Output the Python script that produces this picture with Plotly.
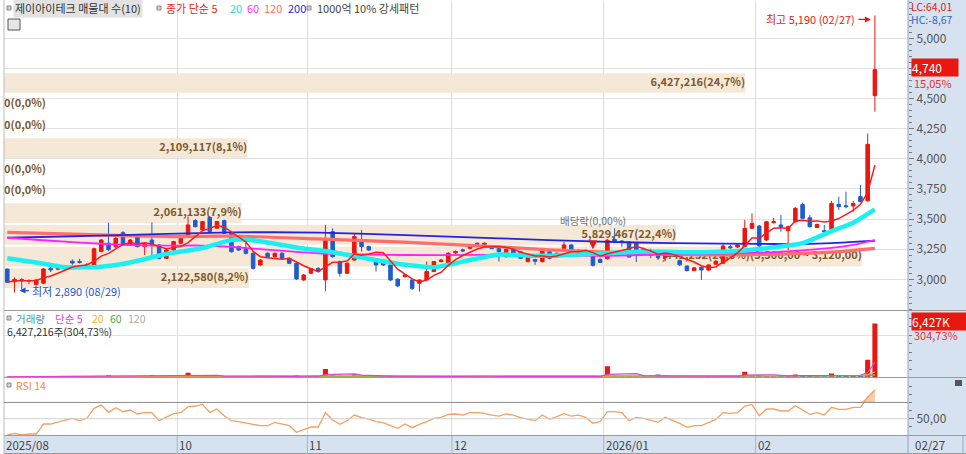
import numpy as np
import pandas as pd
import plotly.graph_objects as go

# ---------------- data (daily, 2025/08/28 .. 2026/02/27) ----------------
open_ = [3085, 2980, 2998, 2985, 2955, 2968, 3090, 3084, 3085, 3150,
         3148, 3120, 3100, 3230, 3300, 3270, 3387, 3285, 3368, 3271,
         3326, 3285, 3174, 3243, 3299, 3368, 3487, 3410, 3514, 3424,
         3487, 3382, 3271, 3257, 3216, 3119, 3216, 3188, 3216, 3174,
         3133, 2995, 3050, 3091, 2995, 3395, 3147, 3050, 3160, 3326,
         3271, 3147, 3160, 3119, 3000, 3022, 2994, 2967, 2994, 3064,
         3147, 3133, 3220, 3245, 3257, 3299, 3290, 3270, 3257, 3188,
         3257, 3229, 3147, 3165, 3147, 3229, 3188, 3257, 3285, 3220,
         3225, 3212, 3165, 3171, 3330, 3318, 3309, 3300, 3250, 3240,
         3200, 3180, 3220, 3155, 3110, 3072, 3100, 3077, 3125, 3133,
         3270, 3268, 3271, 3423, 3442, 3326, 3470, 3451, 3403, 3478,
         3620, 3511, 3430, 3403, 3415, 3622, 3610, 3609, 3686, 3652,
         4524]
high = [3090, 3015, 3010, 3000, 3000, 3095, 3110, 3105, 3115, 3165,
        3170, 3135, 3262, 3335, 3470, 3350, 3400, 3335, 3375, 3305,
        3473, 3290, 3250, 3320, 3350, 3520, 3500, 3485, 3525, 3485,
        3495, 3390, 3280, 3320, 3225, 3165, 3222, 3222, 3225, 3180,
        3140, 3045, 3095, 3100, 3450, 3423, 3155, 3140, 3382, 3410,
        3280, 3155, 3170, 3125, 3010, 3045, 3000, 3000, 3147, 3150,
        3170, 3225, 3240, 3255, 3290, 3305, 3305, 3275, 3262, 3255,
        3262, 3235, 3185, 3170, 3250, 3235, 3222, 3310, 3290, 3250,
        3245, 3225, 3175, 3335, 3423, 3325, 3315, 3305, 3262, 3255,
        3245, 3240, 3230, 3165, 3115, 3100, 3108, 3125, 3160, 3290,
        3285, 3290, 3492, 3547, 3450, 3485, 3510, 3534, 3445, 3600,
        3636, 3534, 3462, 3450, 3650, 3686, 3727, 3650, 3783, 4210,
        5190]
low = [2970, 2890, 2915, 2960, 2950, 2960, 3060, 3075, 3080, 3120,
       3130, 3090, 3090, 3225, 3235, 3260, 3275, 3280, 3265, 3200,
       3200, 3165, 3170, 3238, 3295, 3360, 3430, 3405, 3390, 3420,
       3375, 3222, 3235, 3205, 3080, 3110, 3180, 3180, 3168, 3125,
       2995, 2985, 3045, 3055, 2900, 3180, 3022, 3045, 3155, 3230,
       3235, 3064, 3110, 2985, 2935, 3015, 2911, 2897, 2990, 3060,
       3140, 3130, 3210, 3225, 3250, 3280, 3285, 3250, 3147, 3180,
       3210, 3170, 3140, 3120, 3140, 3165, 3180, 3250, 3225, 3215,
       3215, 3105, 3135, 3165, 3300, 3270, 3180, 3143, 3225, 3175,
       3160, 3150, 3190, 3110, 3065, 3068, 2994, 3070, 3120, 3128,
       3250, 3260, 3265, 3418, 3270, 3320, 3465, 3395, 3243, 3470,
       3500, 3430, 3425, 3368, 3410, 3575, 3590, 3561, 3640, 3645,
       4390]
close = [2975, 3000, 2988, 2990, 2995, 3086, 3078, 3100, 3111, 3135,
         3140, 3110, 3253, 3326, 3245, 3340, 3285, 3326, 3271, 3299,
         3285, 3174, 3243, 3313, 3340, 3451, 3437, 3479, 3396, 3479,
         3382, 3229, 3243, 3216, 3091, 3160, 3188, 3216, 3174, 3133,
         3003, 3036, 3090, 3064, 3326, 3188, 3050, 3133, 3354, 3271,
         3243, 3119, 3119, 2994, 2945, 3036, 2925, 2994, 3064, 3147,
         3160, 3216, 3230, 3235, 3285, 3290, 3299, 3255, 3230, 3250,
         3216, 3174, 3180, 3150, 3243, 3174, 3216, 3285, 3229, 3240,
         3238, 3116, 3140, 3324, 3310, 3308, 3185, 3245, 3235, 3200,
         3180, 3230, 3200, 3120, 3072, 3095, 3077, 3119, 3150, 3277,
         3262, 3285, 3423, 3464, 3277, 3478, 3478, 3437, 3437, 3589,
         3506, 3437, 3455, 3395, 3630, 3603, 3603, 3630, 3644, 4120,
         4740]
volume = [90000, 160000, 110000, 70000, 80000, 120000, 70000, 60000, 70000, 90000,
          80000, 70000, 160000, 150000, 280000, 140000, 130000, 100000, 120000, 110000,
          300000, 150000, 120000, 130000, 140000, 560000, 210000, 150000, 180000, 130000,
          120000, 160000, 100000, 100000, 140000, 100000, 90000, 100000, 110000, 110000,
          300000, 130000, 120000, 100000, 1000000, 380000, 200000, 150000, 400000, 230000,
          150000, 130000, 110000, 180000, 160000, 100000, 140000, 120000, 170000, 150000,
          100000, 130000, 90000, 80000, 100000, 90000, 80000, 90000, 110000, 120000,
          100000, 110000, 90000, 100000, 130000, 110000, 90000, 120000, 100000, 90000,
          80000, 200000, 120000, 1350000, 300000, 250000, 220000, 200000, 140000, 130000,
          350000, 160000, 120000, 150000, 140000, 110000, 130000, 150000, 130000, 250000,
          150000, 180000, 680000, 300000, 260000, 220000, 160000, 170000, 200000, 350000,
          230000, 180000, 150000, 140000, 480000, 230000, 200000, 180000, 260000, 2109117,
          6427216]
rsi14 = [30.0, 32.0, 30.0, 31.2, 31.2, 43.5, 43.5, 46.3, 48.4, 50.5,
         47.6, 50.5, 62.8, 66.8, 57.8, 63.5, 58.6, 60.7, 55.8, 57.4,
         57.4, 47.6, 51.7, 56.2, 57.4, 64.8, 65.6, 67.6, 57.8, 61.9,
         53.7, 47.6, 46.3, 45.1, 43.1, 41.4, 41.4, 45.5, 43.5, 41.4,
         33.3, 36.1, 39.8, 39.8, 57.4, 48.4, 43.1, 47.6, 54.5, 51.3,
         49.6, 46.3, 45.1, 41.4, 38.2, 43.5, 39.0, 43.1, 46.3, 50.5,
         51.7, 55.4, 55.8, 54.5, 57.4, 57.6, 56.6, 54.5, 53.3, 55.8,
         54.5, 51.3, 49.2, 47.6, 54.5, 49.2, 52.5, 56.2, 53.3, 54.5,
         51.7, 44.3, 46.3, 58.6, 58.6, 57.4, 47.6, 51.7, 50.5, 48.4,
         45.5, 51.7, 48.4, 44.3, 39.4, 41.4, 41.4, 45.5, 49.2, 57.4,
         56.6, 57.4, 65.6, 67.6, 53.7, 61.9, 61.9, 59.5, 59.5, 66.0,
         60.7, 55.4, 57.4, 54.5, 64.0, 61.5, 61.5, 64.0, 64.0, 76.5,
         85.3]

# longer price averages, read at selected candles (their history is off-screen)
ma20_idx = [0, 4, 8, 13, 17, 22, 27, 31, 34, 38, 41, 45, 50, 55, 59, 64, 68, 73, 77, 82, 88, 96, 101, 106, 110, 114, 117, 120]
ma20_val = [3175, 3140, 3100, 3105, 3140, 3210, 3260, 3325, 3325, 3285, 3255, 3225, 3170, 3120, 3100, 3160, 3205, 3195, 3200, 3215, 3230, 3225, 3235, 3265, 3300, 3400, 3470, 3580]
ma60_idx = [0, 6, 13, 20, 27, 31, 34, 43, 50, 60, 70, 82, 90, 100, 106, 110, 114, 117, 120]
ma60_val = [3345, 3320, 3295, 3280, 3280, 3270, 3255, 3216, 3205, 3200, 3205, 3195, 3205, 3215, 3225, 3240, 3260, 3285, 3325]
ma120_idx = [0, 13, 22, 31, 43, 54, 61, 68, 75, 82, 90, 96, 106, 110, 114, 117, 120]
ma120_val = [3390, 3368, 3355, 3358, 3335, 3310, 3290, 3270, 3245, 3228, 3210, 3202, 3207, 3215, 3225, 3240, 3257]
ma200_idx = [0, 13, 31, 43, 54, 68, 82, 92, 106, 110, 114, 117, 120]
ma200_val = [3345, 3362, 3390, 3388, 3368, 3340, 3312, 3300, 3293, 3293, 3300, 3310, 3320]

# volume profile (매물대 수 10), price bands top -> bottom
band_edges = [4740, 4560, 4380, 4200, 4020, 3840, 3660, 3480, 3300, 3120, 2940]
band_vol = [6427216, 0, 0, 2109117, 0, 0, 2061133, 5829467, 7441232, 2122580]

month_start = [24, 42, 62, 83, 104]
month_label = ['10', '11', '12', '2026/01', '02']
first_label = '2025/08'
last_date = '02/27'
low_date = '08/29'
div_idx = 81
div_text = '배당락(0,00%)'
price_ticks = [3000, 3250, 3500, 3750, 4000, 4250, 4500, 4750, 5000]

# ---------------- layout geometry / styles ----------------
W, H = 966, 454
ML, MR, MT, MB = 4, 58, 1, 19
PW, PH = W - ML - MR, H - MT - MB
FONT = 'Noto Sans CJK KR'
UP, DN = '#e8170f', '#1f5ccc'
GRID = '#e2e2e2'
PANEL = '#d7e2f0'
BAND_FILL = '#f6e8d6'
BAND_TXT = '#7b5a2e'
STEP_PX, FIRST_PX = 7.23, 7.3


def px(x):
    return (x - ML) / PW


def py(y):
    return (H - MB - y) / PH


n = len(close)
idx = list(range(n))
X0 = -(FIRST_PX - ML) / STEP_PX
X1 = X0 + PW / STEP_PX
grid_x = [m - 0.5 for m in month_start]

ma5 = pd.Series(close).rolling(5, min_periods=1).mean()
vol_s = pd.Series(volume)
vma = {w: vol_s.rolling(w, min_periods=1).mean() for w in (5, 20, 60, 120)}

fig = go.Figure()

# volume profile bands (base subplot, under the candles)
band_hi = np.array(band_edges[:-1], dtype=float)
band_lo = np.array(band_edges[1:], dtype=float)
band_mid = (band_hi + band_lo) / 2 - 21
band_h = (band_hi - band_lo) * 0.91
total = sum(band_vol)
top_band = int(np.argmax(band_vol))
band_txt, band_pos = [], []
for k, v in enumerate(band_vol):
    t = f'{v:,}({v / total * 100:.1f}%)'.replace('.', ',')
    if k == top_band:
        t += f'({band_hi[k]:,.2f} ~ {band_lo[k]:,.2f})'.replace('.', ',')
    band_txt.append(t)
    band_pos.append('middle left' if v > 0 else 'middle right')

fig.add_trace(go.Bar(x=band_vol, y=band_mid, width=band_h, orientation='h',
                     marker=dict(color=BAND_FILL, line=dict(width=0)),
                     xaxis='x', yaxis='y', hoverinfo='skip'))
fig.add_trace(go.Scatter(x=band_vol, y=band_mid, mode='text', text=band_txt,
                         textposition=band_pos,
                         textfont=dict(family=FONT, size=11, color=BAND_TXT, weight='bold'),
                         xaxis='x', yaxis='y', hoverinfo='skip'))

# moving averages of close
for xs, ys, col, w in [(ma120_idx, ma120_val, '#ff6d6d', 3.2),
                       (ma200_idx, ma200_val, '#2424e0', 1.8),
                       (ma60_idx, ma60_val, '#ff22ff', 1.8),
                       (ma20_idx, ma20_val, '#19f0f0', 4.5)]:
    fig.add_trace(go.Scatter(x=xs, y=ys, mode='lines',
                             line=dict(color=col, width=w, shape='spline', smoothing=0.6),
                             xaxis='x2', yaxis='y', hoverinfo='skip'))
fig.add_trace(go.Scatter(x=idx, y=ma5, mode='lines', line=dict(color='#ff1a1a', width=1.5),
                         xaxis='x2', yaxis='y', hoverinfo='skip'))

fig.add_trace(go.Candlestick(x=idx, open=open_, high=high, low=low, close=close,
                             increasing=dict(line=dict(color=UP, width=1), fillcolor=UP),
                             decreasing=dict(line=dict(color=DN, width=1), fillcolor=DN),
                             whiskerwidth=0, xaxis='x2', yaxis='y', hoverinfo='skip'))

# volume panel
vcol = [UP if c >= o else DN for o, c in zip(open_, close)]
fig.add_trace(go.Bar(x=idx, y=volume, width=0.7, marker=dict(color=vcol, line=dict(width=0)),
                     xaxis='x3', yaxis='y2', hoverinfo='skip'))
for w, col in [(120, '#a8a8a8'), (60, '#3cae5a'), (20, '#f2b233'), (5, '#e83fd0')]:
    fig.add_trace(go.Scatter(x=idx, y=vma[w], mode='lines', line=dict(color=col, width=1.2),
                             xaxis='x3', yaxis='y2', hoverinfo='skip'))

# RSI panel
rsi_arr = np.array(rsi14)
fig.add_trace(go.Scatter(x=idx, y=np.full(n, 70.0), mode='lines', line=dict(width=0),
                         xaxis='x4', yaxis='y3', hoverinfo='skip'))
fig.add_trace(go.Scatter(x=idx, y=np.maximum(rsi_arr, 70), mode='lines', line=dict(width=0),
                         fill='tonexty', fillcolor='rgba(246,160,100,0.55)',
                         xaxis='x4', yaxis='y3', hoverinfo='skip'))
fig.add_trace(go.Scatter(x=idx, y=rsi14, mode='lines', line=dict(color='#f5a060', width=1.3),
                         xaxis='x4', yaxis='y3', hoverinfo='skip'))

# ---------------- annotations ----------------
ann = []


def note(text, x, y, color='#333333', size=11, xref='paper', yref='paper', **kw):
    d = dict(text=text, x=x, y=y, xref=xref, yref=yref, showarrow=False, borderpad=0,
             xanchor='left', yanchor='middle', font=dict(family=FONT, size=size, color=color))
    d.update(kw)
    ann.append(d)


# top legend
note('제이아이테크 매물대 수(10)', px(13), py(8), color='#333333', bgcolor='#e2e2e2', borderpad=1)
for t, c, x in [('종가 단순 5', '#ee1c1c', 165), ('20', '#19dede', 229), ('60', '#ff30ff', 246),
                ('120', '#ff6d6d', 263), ('200', '#2a2ae0', 287)]:
    note(t, px(x), py(8), color=c)
note('1000억 10% 강세패턴', px(316), py(8), color='#444444')

# volume / rsi legends
for t, c, x in [('거래량', '#44a0a8', 15), ('단순 5', '#e83fd0', 54), ('20', '#f2b233', 91),
                ('60', '#3cae5a', 109), ('120', '#aaaaaa', 127)]:
    note(t, px(x), py(318), color=c, size=10.5)
last_v, prev_v = volume[-1], volume[-2]
note(f'{last_v:,}주({last_v / prev_v * 100:.2f}%)'.replace('.', ','), px(6), py(331.5),
     color='#333333', size=10.5)
note('RSI 14', px(15), py(385), color='#f08a3c', size=10.5)

# high / low markers
hi_i = int(np.argmax(high))
lo_i = int(np.argmin(low))
note(f'최고 {high[hi_i]:,} ({last_date})', hi_i, high[hi_i], color=UP, xref='x2', yref='y',
     xanchor='right', xshift=-19, yshift=-4)
ann.append(dict(x=hi_i, y=high[hi_i], xref='x2', yref='y', text='', showarrow=True,
                ax=-14, ay=0, arrowhead=2, arrowsize=1, arrowwidth=1.2, arrowcolor=UP,
                xshift=-4, yshift=-4))
note(f'최저 {low[lo_i]:,} ({low_date})', lo_i, low[lo_i], color='#2050d0', xref='x2', yref='y',
     xshift=16, yshift=2)
ann.append(dict(x=lo_i, y=low[lo_i], xref='x2', yref='y', text='', showarrow=True,
                ax=11, ay=0, arrowhead=2, arrowsize=1, arrowwidth=1.2, arrowcolor='#2050d0',
                xshift=5, yshift=2))

# ex-dividend mark
note(div_text, div_idx, high[div_idx], color='#707070', xref='x2', yref='y', size=10.5,
     xanchor='center', yshift=32)
ann.append(dict(x=div_idx, y=high[div_idx], xref='x2', yref='y', text='', showarrow=True,
                ax=0, ay=-10, arrowhead=2, arrowsize=1.1, arrowwidth=1.6, arrowcolor=UP, yshift=3))

# right-hand price info
last_c, prev_c = close[-1], close[-2]
lo_all, hi_all = min(low), max(high)
note(f'LC:{(last_c - lo_all) / lo_all * 100:.2f}'.replace('.', ','), px(910), py(6.5),
     color='#e02020', size=10.5)
note(f'HC:{(last_c - hi_all) / hi_all * 100:.2f}'.replace('.', ','), px(910), py(19.5),
     color='#3366cc', size=10.5)
note(f'{last_c:,}' + '&nbsp;' * 6, px(911), last_c, yref='y', color='white', bgcolor=UP,
     size=12, yshift=2)
note(f'{(last_c / prev_c - 1) * 100:.2f}%'.replace('.', ','), px(913), last_c, yref='y',
     color='#e83030', size=11, yshift=-13.5)
note(f'{last_v / 1000:,.0f}K' + '&nbsp;' * 6, px(911), last_v, yref='y2', color='white',
     bgcolor=UP, size=12, yshift=2)
note(f'{last_v / prev_v * 100:.2f}%'.replace('.', ','), px(913), last_v, yref='y2',
     color='#e83030', size=11, yshift=-12)

# date band labels
note(first_label, px(5), py(445), color='#444444', size=11.5)
for m, t in zip(month_start, month_label):
    note(t, m - 0.5, py(445), xref='x4', color='#444444', size=11.5, xshift=1)
note(last_date, px(914), py(445), color='#444444', size=11.5)

# ---------------- shapes ----------------
shapes = [
    dict(type='rect', xref='paper', yref='paper', x0=px(908), x1=px(W), y0=py(436), y1=py(0),
         fillcolor=PANEL, line=dict(width=0), layer='below'),
    dict(type='rect', xref='paper', yref='paper', x0=px(ML), x1=px(W), y0=py(H), y1=py(436),
         fillcolor=PANEL, line=dict(width=0), layer='below'),
]
for yline in (310.5, 377.5, 435.5, 453.5):
    shapes.append(dict(type='line', xref='paper', yref='paper', x0=px(ML), x1=px(W),
                       y0=py(yline), y1=py(yline), line=dict(color='#9a9a9a', width=1)))
shapes.append(dict(type='line', xref='paper', yref='paper', x0=px(908), x1=px(908),
                   y0=py(H), y1=py(0), line=dict(color='#98a6ba', width=1)))
shapes.append(dict(type='line', xref='paper', yref='paper', x0=px(963), x1=px(963),
                   y0=py(H), y1=py(436), line=dict(color='#98a6ba', width=1)))
shapes.append(dict(type='line', xref='paper', yref='paper', x0=px(ML), x1=px(ML),
                   y0=py(H), y1=py(0), line=dict(color='#bbbbbb', width=1)))
for gx in grid_x:
    shapes.append(dict(type='line', xref='x4', yref='paper', x0=gx, x1=gx,
                       y0=py(H), y1=py(436), line=dict(color='#a9b4c4', width=1)))
shapes.append(dict(type='line', xref='paper', yref='y3', x0=0, x1=1, y0=70, y1=70,
                   line=dict(color='#8a8a8a', width=1)))
shapes.append(dict(type='line', xref='paper', yref='y3', x0=0, x1=1, y0=50, y1=50,
                   line=dict(color='#d2d2d2', width=1)))
# legend squares and small icons
for sx, sy in [(7, 8), (157, 8), (307, 8), (7, 318), (7, 385)]:
    shapes.append(dict(type='rect', xref='paper', yref='paper', x0=px(sx), x1=px(sx + 4),
                       y0=py(sy + 2), y1=py(sy - 2), fillcolor='#d0d0d0',
                       line=dict(color='#8a8a8a', width=1)))
shapes.append(dict(type='rect', xref='paper', yref='paper', x0=px(8), x1=px(20),
                   y0=py(30), y1=py(19), fillcolor='#e6e6e6', line=dict(color='#555555', width=1)))
for iy in (314, 380):
    shapes.append(dict(type='rect', xref='paper', yref='paper', x0=px(955), x1=px(962),
                       y0=py(iy + 6), y1=py(iy), fillcolor='#555555', line=dict(width=0)))

# ---------------- axes ----------------
tick_font = dict(family=FONT, size=12, color='#555555')
xgrid = dict(range=[X0, X1], tickvals=grid_x, showticklabels=False, ticks='',
             showgrid=True, gridcolor='#dcdcdc', zeroline=False, fixedrange=True)
# the last-price box sits over its own tick, so that tick carries no label
price_text = ['' if abs(v - close[-1]) < 125 else f'{v:,}' for v in price_ticks]

fig.update_layout(
    width=W, height=H,
    margin=dict(l=ML, r=MR, t=MT, b=MB),
    paper_bgcolor='white', plot_bgcolor='white',
    showlegend=False, hovermode=False, dragmode=False,
    annotations=ann, shapes=shapes,
    xaxis=dict(domain=[0, 1], range=[0, max(band_vol) * PW / 858], visible=False,
               anchor='y', fixedrange=True),
    xaxis2=dict(overlaying='x', anchor='y', rangeslider=dict(visible=False), **xgrid),
    xaxis3=dict(domain=[0, 1], anchor='y2', matches='x2', **xgrid),
    xaxis4=dict(domain=[0, 1], anchor='y3', matches='x2', **xgrid),
    yaxis=dict(domain=[py(310.5), 1], anchor='x', side='right',
               range=[3000 + (279.3 - 310.5) / 0.1205, 3000 + (279.3 - 1) / 0.1205],
               tickvals=price_ticks, ticktext=price_text,
               ticks='outside', ticklen=5, tickcolor='#7a7a7a', tickfont=tick_font,
               showgrid=True, gridcolor=GRID, zeroline=False, fixedrange=True,
               minor=dict(tickvals=list(range(2750, 5301, 50)), ticks='outside', ticklen=3,
                          tickcolor='#7a7a7a', showgrid=False)),
    yaxis2=dict(domain=[py(377.5), py(311)], anchor='x3', side='right', range=[0, 7.9e6],
                tickvals=[5e6], showticklabels=False, ticks='outside', ticklen=3,
                tickcolor='#7a7a7a', showgrid=True, gridcolor=GRID, zeroline=False,
                fixedrange=True,
                minor=dict(tickvals=[1e6, 2e6, 3e6, 4e6, 6e6, 7e6], ticks='outside', ticklen=3,
                           tickcolor='#7a7a7a', showgrid=False)),
    yaxis3=dict(domain=[0, py(378)], anchor='x4', side='right', range=[30, 100],
                tickvals=[50], ticktext=['50,00'], ticks='outside', ticklen=5,
                tickcolor='#7a7a7a', tickfont=tick_font, showgrid=False, zeroline=False,
                fixedrange=True,
                minor=dict(tickvals=[40, 60, 70, 80, 90], ticks='outside', ticklen=3,
                           tickcolor='#7a7a7a', showgrid=False)),
)

# the page's default body margin would push the figure 8px off its place
fig.write_html('out.html', config=dict(displayModeBar=False, staticPlot=True),
               post_script="document.body.style.margin='0px';document.body.style.overflow='hidden';")
